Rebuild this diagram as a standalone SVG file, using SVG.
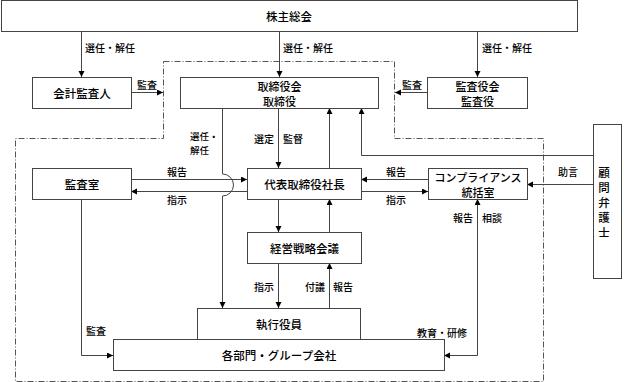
<svg xmlns="http://www.w3.org/2000/svg" width="624" height="382" viewBox="0 0 624 382">
<defs>
<style>
.box{fill:#fff;stroke:#444;stroke-width:1}
.nt{font-family:"Noto Sans CJK JP","Noto Sans",sans-serif;font-size:11.5px;fill:#000;text-anchor:middle;dominant-baseline:central;font-weight:500}
.n2{font-size:11px}
.lb{font-family:"Noto Sans CJK JP","Noto Sans",sans-serif;font-size:10px;fill:#000;dominant-baseline:central;font-weight:500}
.l2{font-size:9.5px}
.cn{fill:none;stroke:#444;stroke-width:1}
.dd{fill:none;stroke:#555;stroke-width:1;stroke-dasharray:6 2 1 2}
</style>
<marker id="ah" markerUnits="userSpaceOnUse" markerWidth="7" markerHeight="7" refX="6" refY="3" orient="auto-start-reverse">
<path d="M0,0 L6,3 L0,6 z" fill="#000"/>
</marker>
</defs>
<rect width="624" height="382" fill="#fff"/>
<path class="dd" d="M163.5,61.5 H394.5 V138.5 H543.5 V381.5 H15.5 V138.5 H163.5 Z"/>
<g id="connectors">
<path class="cn" d="M81.5,31 V77" marker-end="url(#ah)"/>
<path class="cn" d="M279.5,31 V77" marker-end="url(#ah)"/>
<path class="cn" d="M477.5,31 V77" marker-end="url(#ah)"/>
<path class="cn" d="M131,92.5 H163" marker-end="url(#ah)"/>
<path class="cn" d="M427,92.5 H395" marker-end="url(#ah)"/>
<path class="cn" d="M222.5,108 V174 A11,11 0 0 1 222.5,196 V308" marker-end="url(#ah)"/>
<path class="cn" d="M278.5,108 V168" marker-end="url(#ah)"/>
<path class="cn" d="M329.5,168 V108" marker-end="url(#ah)"/>
<path class="cn" d="M593,155.5 H361.5 V108" marker-end="url(#ah)"/>
<path class="cn" d="M131,179.5 H247" marker-end="url(#ah)"/>
<path class="cn" d="M247,191.5 H131" marker-end="url(#ah)"/>
<path class="cn" d="M278.5,199 V232" marker-end="url(#ah)"/>
<path class="cn" d="M329.5,232 V199" marker-end="url(#ah)"/>
<path class="cn" d="M278.5,263 V308" marker-end="url(#ah)"/>
<path class="cn" d="M329.5,308 V263" marker-end="url(#ah)"/>
<path class="cn" d="M428,179.5 H361" marker-end="url(#ah)"/>
<path class="cn" d="M361,191.5 H428" marker-end="url(#ah)"/>
<path class="cn" d="M593,184.5 H527" marker-end="url(#ah)"/>
<path class="cn" d="M477.5,199 V355.5 H444" marker-start="url(#ah)" marker-end="url(#ah)"/>
<path class="cn" d="M81.5,199 V355.5 H113" marker-end="url(#ah)"/>
</g>
<g id="labels">
<text class="lb" x="85" y="47">選任・解任</text>
<text class="lb" x="283" y="47">選任・解任</text>
<text class="lb" x="482" y="47">選任・解任</text>
<text class="lb" x="137" y="84">監査</text>
<text class="lb" x="402" y="84">監査</text>
<text class="lb l2" x="190" y="136">選任・</text>
<text class="lb l2" x="190" y="150">解任</text>
<text class="lb" x="254" y="138">選定</text>
<text class="lb" x="283" y="138">監督</text>
<text class="lb" x="167" y="171">報告</text>
<text class="lb" x="167" y="199">指示</text>
<text class="lb" x="386" y="171">報告</text>
<text class="lb" x="386" y="199">指示</text>
<text class="lb" x="558" y="171">助言</text>
<text class="lb" x="453" y="217">報告</text>
<text class="lb" x="482" y="217">相談</text>
<text class="lb" x="254" y="286">指示</text>
<text class="lb" x="305" y="286">付議</text>
<text class="lb" x="333" y="286">報告</text>
<text class="lb" x="86" y="330">監査</text>
<text class="lb" x="417" y="332">教育・研修</text>
</g>
<g id="shareholders"><rect class="box" x="1.5" y="0.5" width="576" height="31"/><text class="nt" x="289" y="16">株主総会</text></g>
<g id="auditor"><rect class="box" x="32.5" y="77.5" width="99" height="31"/><text class="nt" x="82" y="93">会計監査人</text></g>
<g id="board"><rect class="box" x="180.5" y="77.5" width="198" height="31"/><text class="nt n2" x="279.5" y="85.5">取締役会</text><text class="nt n2" x="279.5" y="100.5">取締役</text></g>
<g id="kansayaku"><rect class="box" x="427.5" y="77.5" width="100" height="31"/><text class="nt n2" x="477.5" y="85.5">監査役会</text><text class="nt n2" x="477.5" y="100.5">監査役</text></g>
<g id="audit-office"><rect class="box" x="32.5" y="168.5" width="99" height="31"/><text class="nt" x="82" y="184">監査室</text></g>
<g id="president"><rect class="box" x="247.5" y="168.5" width="114" height="31"/><text class="nt" x="304.5" y="184">代表取締役社長</text></g>
<g id="compliance"><rect class="box" x="428.5" y="168.5" width="99" height="31"/><text class="nt n2" x="478" y="176.5">コンプライアンス</text><text class="nt n2" x="478" y="191.5">統括室</text></g>
<g id="lawyer"><rect class="box" x="593.5" y="124.5" width="28" height="154"/>
<text class="nt" x="604" y="172">顧</text><text class="nt" x="604" y="187">問</text><text class="nt" x="604" y="202">弁</text><text class="nt" x="604" y="217">護</text><text class="nt" x="604" y="232">士</text></g>
<g id="strategy"><rect class="box" x="247.5" y="232.5" width="114" height="31"/><text class="nt" x="304.5" y="248">経営戦略会議</text></g>
<g id="officers"><rect class="box" x="197.5" y="308.5" width="163" height="31"/><text class="nt" x="279" y="324">執行役員</text></g>
<g id="divisions"><rect class="box" x="113.5" y="339.5" width="331" height="31"/><text class="nt" x="279" y="355">各部門・グループ会社</text></g>
</svg>
